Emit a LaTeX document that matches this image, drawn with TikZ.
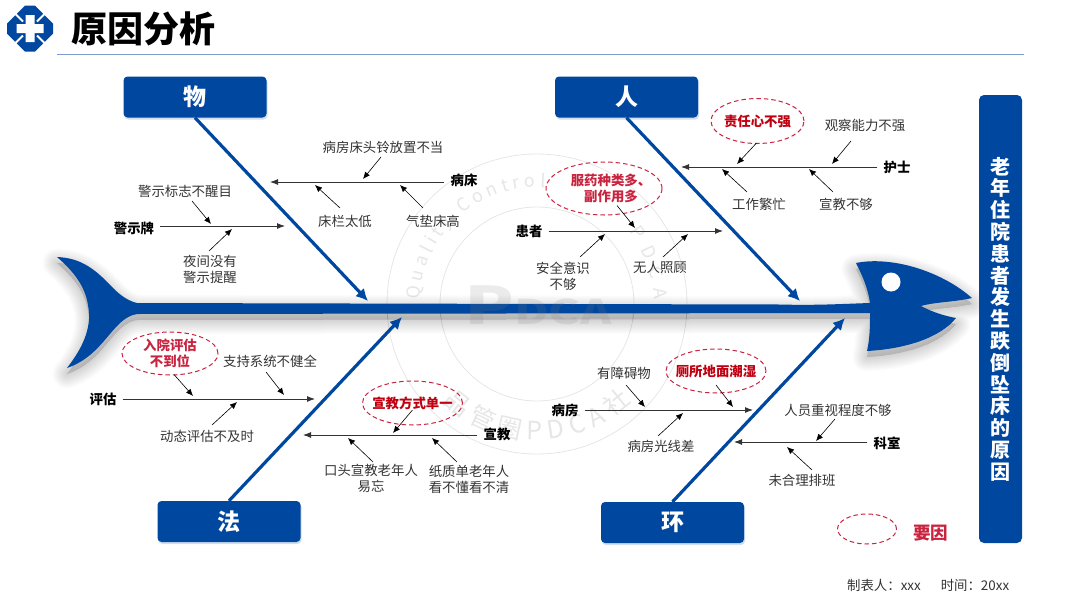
\documentclass[tikz,border=0pt]{standalone}
\usepackage{fontspec}
\setmainfont{Noto Sans CJK SC}
\usetikzlibrary{arrows.meta,calc,shapes.geometric,shadows,decorations.text}
\definecolor{fishblue}{HTML}{0047A0}
\definecolor{causeink}{HTML}{333333}
\definecolor{keyred}{HTML}{C9243F}
\definecolor{keydeep}{HTML}{C00010}
\definecolor{wmgray}{HTML}{E6E6E6}
\definecolor{rulecolor}{HTML}{7C9CD0}
\newcommand{\fishoutline}{(57,257) .. controls (82,258) and (96,270) .. (113,288) .. controls (120,295) and (128,301) .. (137,303)
  -- (780,304.5) .. controls (815,305.5) and (840,304) .. (870,303)
  .. controls (868,288) and (862,275) .. (856,263) .. controls (890,256) and (940,270) .. (972,298)
  .. controls (955,302) and (935,302) .. (921,306) .. controls (932,312) and (945,316) .. (956,318)
  .. controls (940,338) and (905,349) .. (867,351) .. controls (870,338) and (870,325) .. (870,313)
  -- (137,314) .. controls (112,318) and (105,355) .. (67,368) .. controls (85,345) and (92,325) .. (88,305)
  .. controls (85,285) and (72,270) .. (57,257) -- cycle}
\tikzset{
  catbox/.style={fill=fishblue,rounded corners=4pt,minimum width=143pt,minimum height=41pt,inner sep=0pt,
    text=white,font=\fontsize{23}{26}\selectfont\bfseries,
    drop shadow={shadow xshift=1pt,shadow yshift=-2pt,fill=fishblue!40,opacity=.45}},
  bonearrow/.style={draw=fishblue,line width=3.2pt,-{Latex[length=12pt,width=12pt]}},
  branchlabel/.style={inner sep=6pt,text=black,font=\fontsize{13.4}{16}\selectfont\bfseries},
  branchline/.style={draw=causeink,line width=0.9pt,-{Latex[length=8pt,width=6pt]}},
  causelabel/.style={inner sep=0pt,align=center,text=causeink,font=\fontsize{13.4}{16}\selectfont},
  causearrow/.style={draw=black,line width=0.6pt,-{Latex[length=7pt,width=6pt]}},
  keycause/.style={ellipse,draw=keyred,line width=1pt,dash pattern=on 4.5pt off 3pt,inner sep=-10pt,align=center,
    text=keyred,font=\fontsize{13.4}{16}\selectfont\bfseries},
  wmring/.style={draw=wmgray,line width=0.8pt},
}
\begin{document}
\begin{tikzpicture}[x=1pt,y=-1pt]
  \useasboundingbox (0,0) rectangle (1080,608);
  \begin{scope}[shift={(537,304)},x=1pt,y=1pt]
    \draw[wmring] (0,0) circle (150);
    \draw[wmring] (0,0) circle (97);
    \path[decorate,decoration={text along path,text align={fit to path},
      text={|\fontsize{18}{18}\selectfont\color{wmgray}|Quality Control}}]
      (178:117) arc[start angle=178,end angle=86,radius=117];
    \path[decorate,decoration={text along path,text align={fit to path},
      text={|\fontsize{18}{18}\selectfont\color{wmgray}|PDCA}}]
      (38:117) arc[start angle=38,end angle=2,radius=117];
    \path[decorate,decoration={text along path,text align={fit to path},
      text={|\fontsize{25}{25}\selectfont\color{wmgray}|品管圈PDCA社}}]
      (226:136) arc[start angle=226,end angle=314,radius=136];
  \end{scope}
  \foreach \w in {1,3,...,29}
    {\path[fill=black,draw=black,opacity=.011,line width=\w pt,line join=round,shift={(0,6)}] \fishoutline;}
  \fill[fishblue] \fishoutline;
  \fill[white] (891,282) circle (9.5);
  \node[xscale=1.4,text=gray,opacity=.16,inner sep=0pt] (pdca) at (538,305)
    {\fontsize{52}{52}\selectfont\bfseries P\fontsize{34}{34}\selectfont DCA};

  \fill[fishblue] (25,5.5)--(35,5.5)--(53,23.5)--(53,33.5)--(35,51.5)--(25,51.5)--(7,33.5)--(7,23.5)--cycle;
  \foreach \sx/\sy in {1/1,1/-1,-1/1,-1/-1}
    {\draw[white,line width=2pt] (30+7*\sx,28.5+7*\sy)--(30+18*\sx,28.5+18*\sy);}
  \fill[white] (25.5,15)--(34.5,15)--(34.5,24)--(43.5,24)--(43.5,33)--(34.5,33)--(34.5,42)--(25.5,42)--(25.5,33)--(16.5,33)--(16.5,24)--(25.5,24)--cycle;
  \node[inner sep=0pt,font=\fontsize{36}{38}\selectfont\bfseries] (title) at (143,29) {原因分析};
  \draw[rulecolor,line width=1.3pt] (57,54.5)--(1024,54.5);

  \node[catbox] (wu) at (195,97) {物};
  \node[catbox] (ren) at (626.5,97) {人};
  \node[catbox] (fa) at (229,521.5) {法};
  \node[catbox] (huan) at (672.5,522.5) {环};
  \node[fill=fishblue,rounded corners=5pt,minimum width=43pt,minimum height=448pt,inner sep=0pt,text width=43pt,align=center,
    text=white,font=\fontsize{20}{21.8}\selectfont\bfseries] (effect) at (1000.5,319)
    {老\\年\\住\\院\\患\\者\\发\\生\\跌\\倒\\坠\\床\\的\\原\\因};

  \foreach \a/\x/\y in {wu.south/368/301,ren.south/800/301,fa.north/402/317,huan.north/845/318}
    {\coordinate (tip) at (\x,\y);
     \draw[bonearrow] (\a) -- (tip);}

  \node[branchlabel] (jsp) at (134,228) {警示牌};
  \node[branchlabel] (bc) at (464,180) {病床};
  \node[branchlabel] (hs) at (897,167) {护士};
  \node[branchlabel] (hz) at (529,231) {患者};
  \node[branchlabel] (pg) at (103,399) {评估};
  \node[branchlabel] (xj) at (497,434) {宣教};
  \node[branchlabel] (bf) at (565,410) {病房};
  \node[branchlabel] (ks) at (887,443) {科室};
  \foreach \a/\x/\y [count=\i] in {jsp.east/285/226,bc.west/270/182,hs.west/681/167,hz.east/723/231,
      pg.east/315/399,xj.west/303/435,bf.east/753/410,ks.west/734/442}
    {\coordinate (end\i) at (\x,\y);
     \draw[branchline] (\a |- end\i) -- (end\i);}

  \node[causelabel] (jsbz) at (185,191) {警示标志不醒目};
  \node[causelabel] (yjms) at (210,269) {夜间没有\\警示提醒};
  \node[causelabel] (ctld) at (383,147) {病房床头铃放置不当};
  \node[causelabel] (clth) at (345,221) {床栏太低};
  \node[causelabel] (qdcg) at (433,221) {气垫床高};
  \node[keycause,minimum width=93pt,minimum height=45pt,text=keydeep] (zrx) at (757.5,121) {责任心不强};
  \node[causelabel] (gcnl) at (865,125) {观察能力不强};
  \node[causelabel] (gzfm) at (759,204) {工作繁忙};
  \node[causelabel] (xjbg) at (846,204) {宣教不够};
  \node[keycause,minimum width=116pt,minimum height=53pt] (fyzl) at (604,188.5) {\hspace*{14pt}服药种类多、\\\hspace*{14pt}副作用多};
  \node[causelabel] (aqys) at (563,276) {安全意识\\不够};
  \node[causelabel] (wrzg) at (660,267) {无人照顾};
  \node[keycause,minimum width=96pt,minimum height=43pt] (rypg) at (170,353.5) {入院评估\\不到位};
  \node[causelabel] (zcxt) at (270,361) {支持系统不健全};
  \node[causelabel] (dtpg) at (207,436) {动态评估不及时};
  \node[keycause,minimum width=100pt,minimum height=44pt,text=keydeep] (xjfs) at (412.5,403) {宣教方式单一};
  \node[causelabel] (ktxj) at (371,478) {口头宣教老年人\\易忘};
  \node[causelabel] (zzd) at (469,479) {纸质单老年人\\看不懂看不清};
  \node[causelabel] (yzaw) at (624,373) {有障碍物};
  \node[keycause,minimum width=100pt,minimum height=44pt,text=keydeep] (csdm) at (716,371) {厕所地面潮湿};
  \node[causelabel] (bfgx) at (661,446) {病房光线差};
  \node[causelabel] (ryzs) at (838,410) {人员重视程度不够};
  \node[causelabel] (whlp) at (802,480) {未合理排班};
  \foreach \a/\dx/\dy/\x/\y [count=\i] in {jsbz/7/10/211/224,yjms/-1/-18/232/229,ctld/-2/10/363/179,clth/-5/-13/315/185,
      qdcg/-10/-13/400/185,zrx/-1/22/737/164,gcnl/-14/16/832/164,gzfm/-12/-12/722/169,xjbg/-13/-12/809/169,
      fyzl/13/17/635/228,aqys/17/-19/605/234,wrzg/3/-10/688/234,rypg/4/21/193/396,zcxt/-4/11/284/395,
      dtpg/5/-11/237/402,xjfs/0/7/393/433,ktxj/2/-16/348/438,zzd/-12/-17/432/438,yzaw/2/12/645/407,
      csdm/0/14/733/407,bfgx/-3/-10/683/413,ryzs/-3/9/816/441,whlp/10/-10/787/447}
    {\coordinate (head\i) at (\x,\y);
     \draw[causearrow] ([shift={(\dx,\dy)}]\a.center) -- (head\i);}

  \node[keycause,minimum width=59pt,minimum height=30pt] (legend) at (867,529) {};
  \node[inner sep=0pt,text=keyred,font=\fontsize{17.5}{20}\selectfont\bfseries] (legendtext) at (930.5,533) {要因};
  \node[causelabel,font=\fontsize{13.4}{16}\selectfont] (maker) at (884,585) {制表人：xxx};
  \node[causelabel,font=\fontsize{13.4}{16}\selectfont] (date) at (975,585) {时间：20xx};
\end{tikzpicture}
\end{document}
